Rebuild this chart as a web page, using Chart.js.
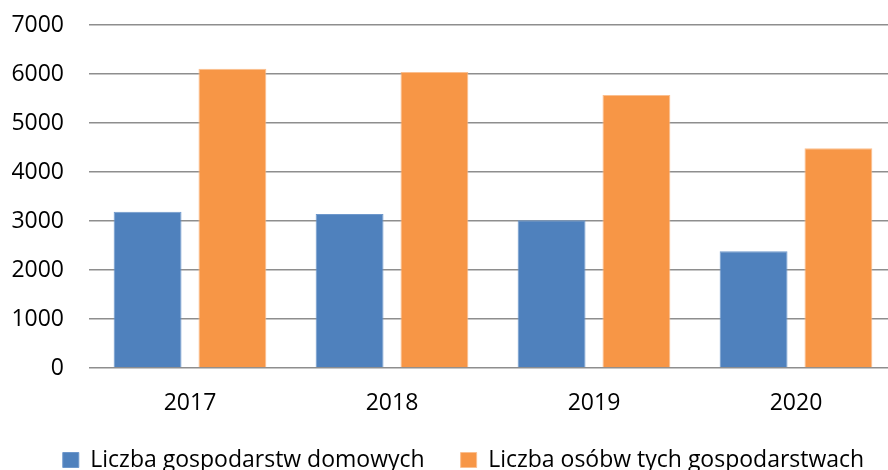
<!DOCTYPE html>
<html><head><meta charset="utf-8">
<script src="https://cdn.jsdelivr.net/npm/chart.js@4/dist/chart.umd.min.js"></script>
<style>html,body{margin:0;padding:0;background:#fff;overflow:hidden}#w{position:absolute;left:0;top:0;width:897px;height:470px}</style>
</head><body><div id="w"><canvas id="c"></canvas></div>
<script>
const categories = ["2017", "2018", "2019", "2020"];
const households = [3190, 3143, 3014, 2381];
const persons = [6108, 6041, 5571, 4483];
const seriesNames = ["Liczba gospodarstw domowych", "Liczba osóbw tych gospodarstwach"];
const yTicks = [0, 1000, 2000, 3000, 4000, 5000, 6000, 7000];

const FONT = "'Open Sans', sans-serif";
const placeLegend = {
  id: 'placeLegend',
  afterLayout(chart) {
    const l = chart.legend; if (!l) return;
    const c = (l.left + l.right) / 2, d = 463.5 - c;
    l.left += d; l.right += d;
    l.top = 412.5; l.bottom = 500;
  }
};
new Chart(document.getElementById('c'), {
  type: 'bar',
  data: {
    labels: categories,
    datasets: [
      { label: seriesNames[0], data: households, backgroundColor: '#4F81BD', borderColor: '#6E98CC', borderWidth: 1, categoryPercentage: 0.84, barPercentage: 0.8 },
      { label: seriesNames[1], data: persons, backgroundColor: '#F79646', borderColor: '#FBBF8F', borderWidth: 1, categoryPercentage: 0.84, barPercentage: 0.8 }
    ]
  },
  options: {
    responsive: true, maintainAspectRatio: false, animation: false,
    layout: { padding: { left: 12, right: 0, top: 0, bottom: 0 } },
    plugins: {
      tooltip: { enabled: false },
      legend: {
        position: 'bottom',
        maxHeight: 30,
        labels: { boxWidth: 16, boxHeight: 15, padding: 36, color: '#000', font: { family: FONT, size: 23 } }
      }
    },
    scales: {
      x: {
        afterFit: (s) => { s.height = 72; s.paddingLeft = 0; s.paddingRight = 0; },
        grid: { display: false, drawTicks: false },
        border: { display: false },
        ticks: { color: '#000', padding: 22, font: { family: FONT, size: 23 } }
      },
      y: {
        min: 0, max: 7000,
        afterFit: (s) => { s.width = 77; s.paddingTop = 25; s.paddingBottom = 0; },
        afterBuildTicks: (s) => { s.ticks = yTicks.map(v => ({ value: v })); },
        grid: { color: '#8E8E8E', lineWidth: 1.5, drawTicks: false },
        border: { display: false },
        ticks: { color: '#000', padding: 25, font: { family: FONT, size: 23 }, callback: (v) => String(v) }
      }
    }
  },
  plugins: [placeLegend]
});
</script></body></html>
